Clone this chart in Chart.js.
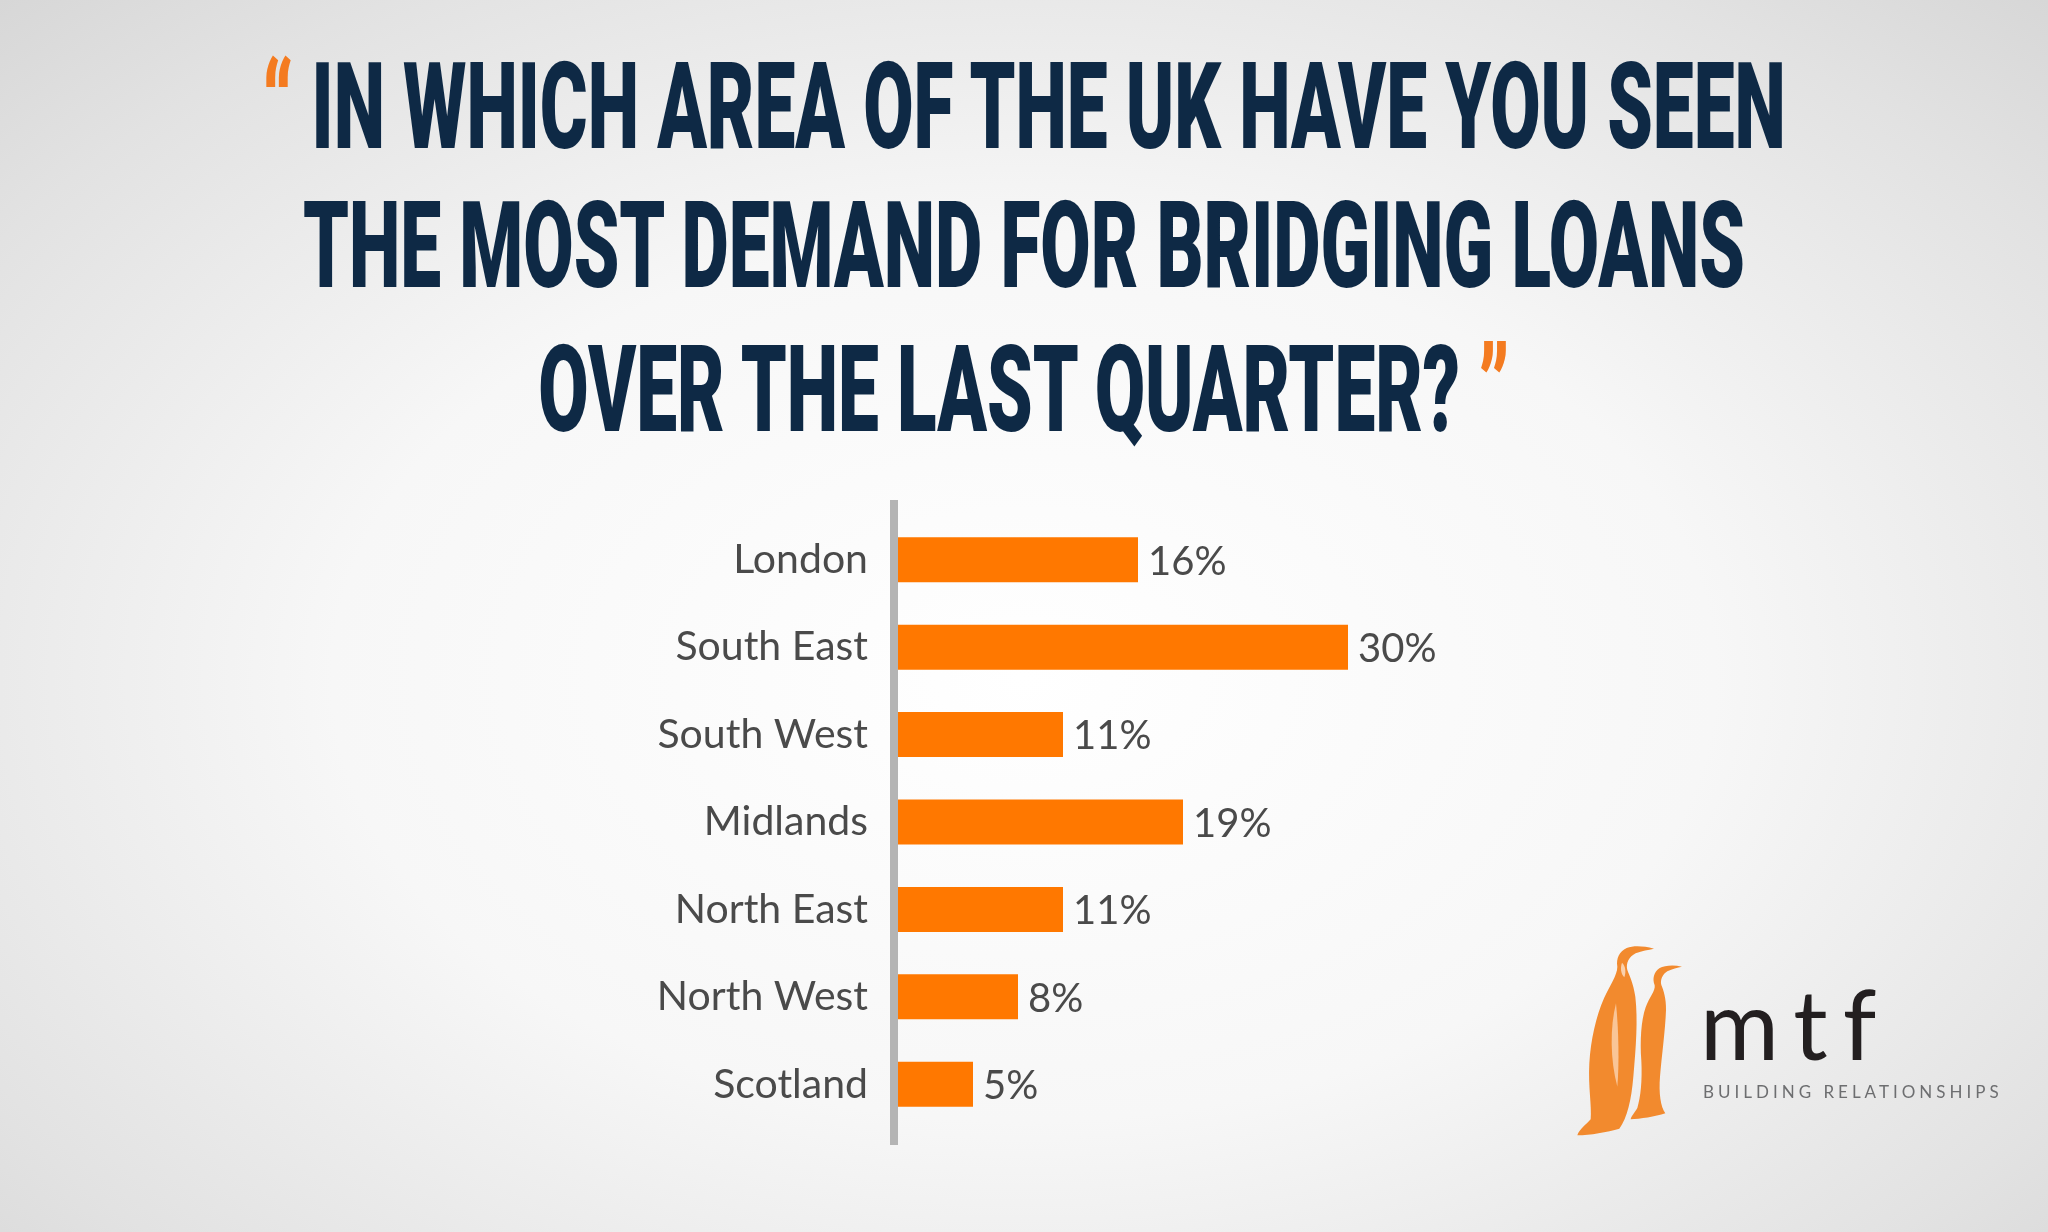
<!DOCTYPE html>
<html>
<head>
<meta charset="utf-8">
<script src="https://cdn.jsdelivr.net/npm/chart.js@4.4.1/dist/chart.umd.min.js"></script>
<style>
  html, body { margin: 0; padding: 0; }
  body {
    width: 2048px; height: 1232px; overflow: hidden; position: relative;
    background: radial-gradient(ellipse 75% 80% at 50% 55%, #ffffff 0%, #f7f7f7 45%, #e2e2e2 80%, #d4d4d4 100%);
  }
  #chartBox { position: absolute; left: 0; top: 0; width: 2048px; height: 1232px; }
  .tline {
    position: absolute; left: -1000px; width: 4048px; text-align: center; white-space: nowrap;
    font-family: Roboto, "DejaVu Sans Condensed", sans-serif; font-weight: 900;
    font-size: 121px; line-height: 121px; color: #0e2945; transform-origin: 50% 50%;
  }
  .tline span.inner { display: inline-block; }
  .q { color: #f47b20; }
  #mtf {
    position: absolute; left: 1700px; top: 975px; font-family: Lato, sans-serif; font-weight: 400;
    font-size: 96px; line-height: 96px; letter-spacing: 15px; color: #231f20;
  }
  #tag {
    position: absolute; left: 1703px; top: 1083px; font-family: Lato, sans-serif; font-weight: 400;
    font-size: 17px; line-height: 17px; letter-spacing: 4px; color: #6d6e70; white-space: nowrap;
  }
  #peng { position: absolute; left: 1560px; top: 920px; }
</style>
</head>
<body>
<div id="chartBox"><canvas id="demandChart" width="2048" height="1232"></canvas></div>

<div class="tline" id="t1" style="top:47px"><span class="inner"><span class="q">&ldquo;</span> IN WHICH AREA OF THE UK HAVE YOU SEEN</span></div>
<div class="tline" id="t2" style="top:186px"><span class="inner">THE MOST DEMAND FOR BRIDGING LOANS</span></div>
<div class="tline" id="t3" style="top:330px"><span class="inner">OVER THE LAST QUARTER? <span class="q">&rdquo;</span></span></div>

<svg id="peng" width="460" height="230" viewBox="0 0 1380 690">
  <path fill="#f28a2e" d="M282 86 C250 78 222 76 200 84 C178 94 168 115 172 140 C172 165 150 195 132 235 C108 290 92 360 88 430 C84 500 96 560 92 598 C78 614 58 628 52 646 C90 646 142 636 178 626 C202 592 214 540 220 470 C228 380 234 300 226 230 C220 190 208 166 202 150 C197 130 207 110 227 100 C247 92 264 90 282 86 Z"/>
  <path fill="#ffffff" opacity="0.6" d="M186 128 C180 145 183 162 193 172 C198 157 198 140 186 128 Z"/>
  <path fill="#ffffff" opacity="0.5" d="M168 250 C150 320 150 420 172 500 C178 430 176 330 168 250 Z"/>
  <path fill="#f28a2e" d="M366 140 C340 134 314 136 298 145 C282 156 276 176 284 196 C287 212 268 232 257 262 C243 302 240 362 244 422 C247 482 242 530 232 564 C224 578 214 588 212 598 C240 597 286 590 316 580 C302 560 296 520 300 470 C305 410 316 330 318 270 C319 235 310 210 304 195 C300 180 308 162 322 154 C337 146 352 143 366 140 Z"/>
</svg>

<div id="mtf">mtf</div>
<div id="tag">BUILDING RELATIONSHIPS</div>

<script>
// squeeze the title lines to a condensed look
const t2w = document.querySelector('#t2 .inner').getBoundingClientRect().width;
const sx = 1442 / t2w;
document.querySelectorAll('.tline').forEach(el => { el.style.transform = 'scaleX(' + sx + ')'; });

// data
const regions = ['London', 'South East', 'South West', 'Midlands', 'North East', 'North West', 'Scotland'];
const shares = [16, 30, 11, 19, 11, 8, 5];

const barOrange = '#ff7800';
const textGrey = '#4a4a4a';

// grey vertical axis line, a bit taller than the bars area
const axisLine = {
  id: 'axisLine',
  beforeDatasetsDraw(chart) {
    const { ctx, chartArea } = chart;
    ctx.save();
    ctx.fillStyle = '#b4b4b4';
    ctx.fillRect(chartArea.left - 8, chartArea.top - 16, 8, chartArea.bottom - chartArea.top + 33);
    ctx.restore();
  }
};

// percentage labels at bar ends
const valueLabels = {
  id: 'valueLabels',
  afterDatasetsDraw(chart) {
    const { ctx } = chart;
    const meta = chart.getDatasetMeta(0);
    ctx.save();
    ctx.font = '40px Lato';
    ctx.fillStyle = textGrey;
    ctx.textAlign = 'left';
    ctx.textBaseline = 'middle';
    meta.data.forEach((bar, i) => {
      ctx.fillText(shares[i] + '%', bar.x + 10, bar.y + 2);
    });
    ctx.restore();
  }
};

const ctx = document.getElementById('demandChart');
new Chart(ctx, {
  type: 'bar',
  data: {
    labels: regions,
    datasets: [{
      data: shares,
      backgroundColor: barOrange,
      categoryPercentage: 1,
      barPercentage: 0.515
    }]
  },
  options: {
    indexAxis: 'y',
    responsive: false,
    animation: false,
    layout: { padding: { left: 0, top: 516, bottom: 104, right: 400 } },
    plugins: { legend: { display: false }, tooltip: { enabled: false } },
    scales: {
      x: { display: false, min: 0, max: 50 },
      y: {
        grid: { display: false, drawTicks: false },
        border: { display: false },
        ticks: { color: textGrey, font: { family: 'Lato', size: 41 }, padding: 30 },
        afterFit(scale) { scale.width = 898; }
      }
    }
  },
  plugins: [axisLine, valueLabels]
});
</script>
</body>
</html>
